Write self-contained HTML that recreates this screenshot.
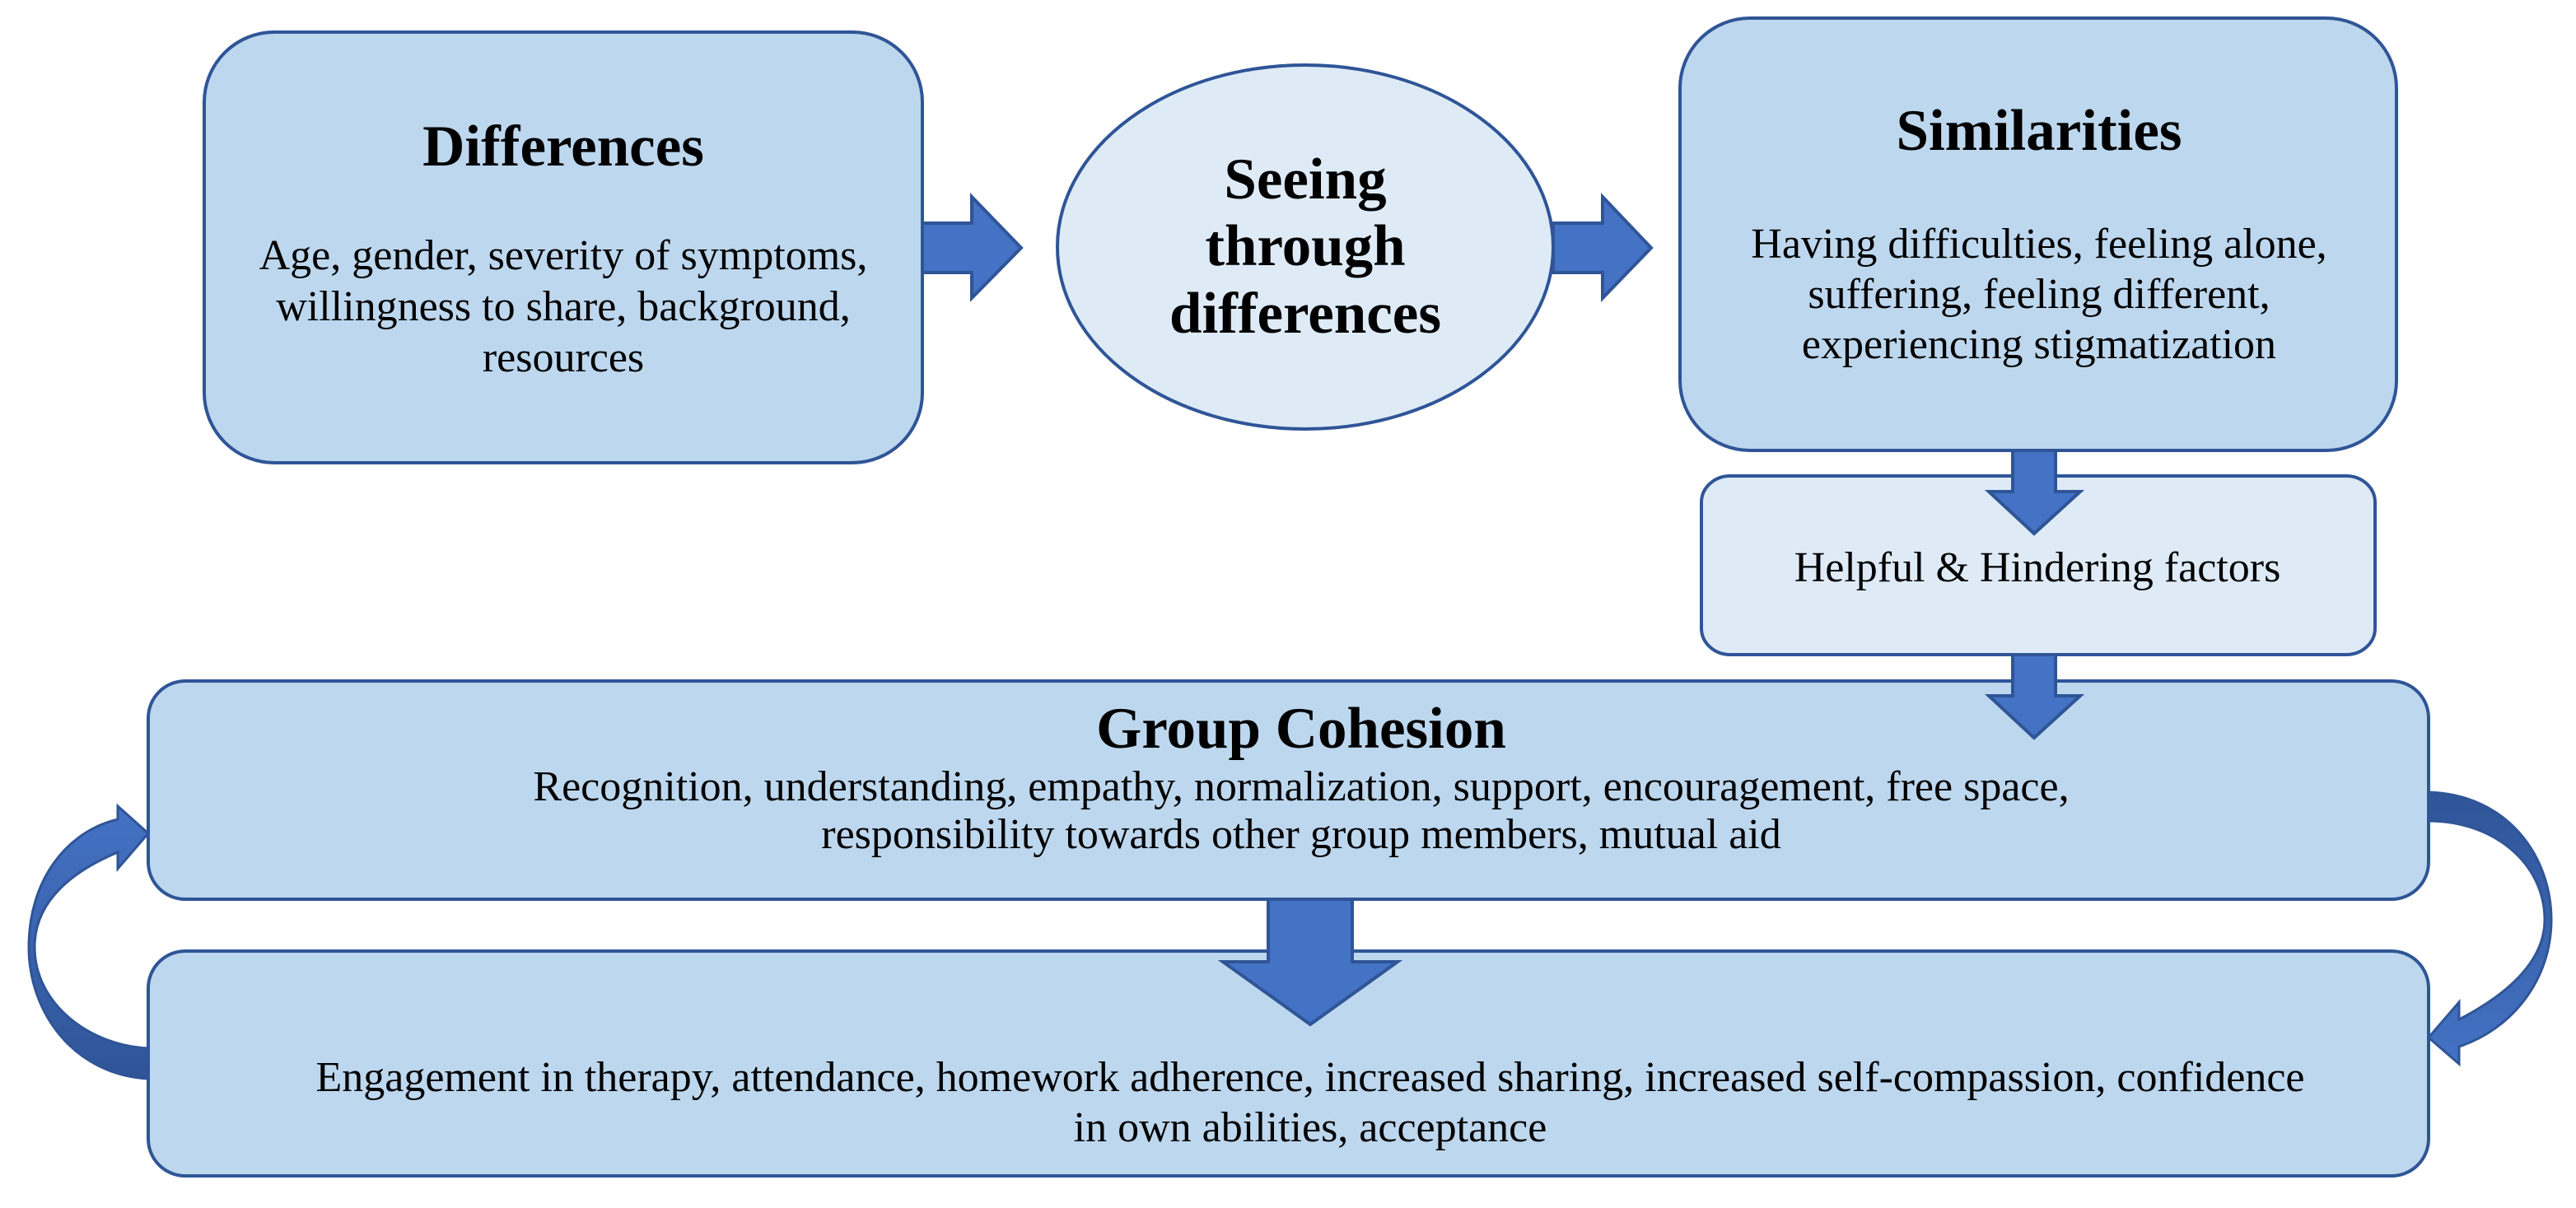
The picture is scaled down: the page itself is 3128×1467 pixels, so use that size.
<!DOCTYPE html>
<html><head><meta charset="utf-8"><style>
html,body{margin:0;padding:0;background:#fff}
svg{display:block}
text{font-family:"Liberation Serif",serif;fill:#000}
.t{font-weight:bold;font-size:71px}
.b{font-size:52px}
</style></head><body>
<svg width="3128" height="1467" viewBox="0 0 3128 1467" xmlns="http://www.w3.org/2000/svg">
<defs>
<linearGradient id="gl" x1="0" y1="1" x2="0" y2="0">
<stop offset="0" stop-color="#2f5597"/><stop offset="1" stop-color="#4472c4"/>
</linearGradient>
<linearGradient id="gr" x1="0" y1="0" x2="0" y2="1">
<stop offset="0" stop-color="#2f5597"/><stop offset="1" stop-color="#4472c4"/>
</linearGradient>
</defs>
<g stroke="#2f5597" stroke-width="4">
<rect x="248" y="39" width="872" height="523" rx="85" ry="85" fill="#bdd7ee"/>
<ellipse cx="1585" cy="300" rx="301" ry="221" fill="#deebf7"/>
<rect x="2040" y="22" width="870" height="525" rx="85" ry="85" fill="#bdd7ee"/>
<rect x="2066" y="578" width="818" height="217" rx="35" ry="32" fill="#deebf7"/>
<rect x="180" y="827" width="2769" height="265" rx="45" ry="45" fill="#bdd7ee"/>
<rect x="180" y="1155" width="2769" height="273" rx="45" ry="45" fill="#bdd7ee"/>
<!-- right arrows -->
<path d="M1120,271 L1180,271 L1180,239 L1240,301 L1180,362 L1180,331 L1120,331 Z" fill="#4472c4"/>
<path d="M1886,271 L1946,271 L1946,239 L2005,301 L1946,362 L1946,331 L1886,331 Z" fill="#4472c4"/>
<!-- down arrows -->
<path d="M2444,547 L2496,547 L2496,597 L2526,597 L2470,648 L2415,597 L2444,597 Z" fill="#4472c4"/>
<path d="M2444,795 L2496,795 L2496,845 L2526,845 L2470,896 L2415,845 L2444,845 Z" fill="#4472c4"/>
<path d="M1540,1092 L1642,1092 L1642,1168 L1697,1168 L1591,1244 L1485,1168 L1540,1168 Z" fill="#4472c4"/>
<!-- curved arrows -->
<path d="M180,1310 C90,1305 35,1230 35,1150 C35,1070 80,1010 143,995 L143,979 L180,1012 L143,1055 L143,1035 C95,1055 42,1090 42,1150 C42,1220 110,1270 180,1273 Z" fill="url(#gl)" stroke-width="3"/>
<path d="M2949,962 C3045,965 3098,1040 3098,1117 C3098,1190 3050,1250 2986,1271 L2986,1292 L2949,1260 L2986,1217 L2986,1238 C3040,1210 3090,1170 3090,1117 C3090,1050 3030,997 2949,997 Z" fill="url(#gr)" stroke-width="3"/>
</g>
<g text-anchor="middle">
<text class="t" x="684" y="201">Differences</text>
<text class="b" x="684" y="327">Age, gender, severity of symptoms,</text>
<text class="b" x="684" y="389">willingness to share, background,</text>
<text class="b" x="684" y="451">resources</text>
<text class="t" x="1585" y="241">Seeing</text>
<text class="t" x="1585" y="322">through</text>
<text class="t" x="1585" y="404">differences</text>
<text class="t" x="2476" y="182">Similarities</text>
<text class="b" x="2476" y="313">Having difficulties, feeling alone,</text>
<text class="b" x="2476" y="374">suffering, feeling different,</text>
<text class="b" x="2476" y="435">experiencing stigmatization</text>
<text class="b" x="2474" y="706">Helpful &amp; Hindering factors</text>
<text class="t" x="1580" y="908">Group Cohesion</text>
<text class="b" x="1580" y="972">Recognition, understanding, empathy, normalization, support, encouragement, free space,</text>
<text class="b" x="1580" y="1030">responsibility towards other group members, mutual aid</text>
<text class="b" x="1591" y="1325">Engagement in therapy, attendance, homework adherence, increased sharing, increased self-compassion, confidence</text>
<text class="b" x="1591" y="1386">in own abilities, acceptance</text>
</g>
</svg>
</body></html>
